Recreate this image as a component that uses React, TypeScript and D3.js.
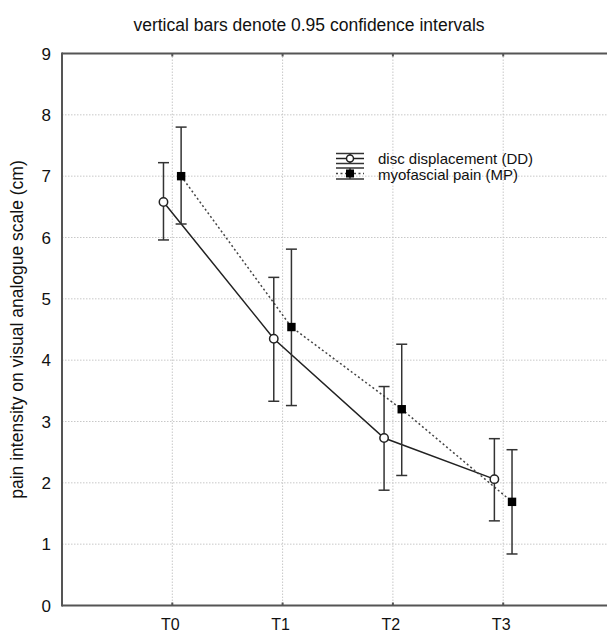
import React from 'react';
import * as d3 from 'd3';

const categories = ['T0', 'T1', 'T2', 'T3'];

// disc displacement (DD): mean with 0.95 CI
const ddMean = [6.58, 4.35, 2.73, 2.06];
const ddLow = [5.96, 3.33, 1.88, 1.38];
const ddHigh = [7.22, 5.35, 3.57, 2.72];

// myofascial pain (MP)
const mpMean = [7.0, 4.54, 3.2, 1.69];
const mpLow = [6.22, 3.26, 2.12, 0.84];
const mpHigh = [7.8, 5.81, 4.26, 2.54];

const yTicks = [0, 1, 2, 3, 4, 5, 6, 7, 8, 9];

const W = 607;
const H = 631;
const FONT = 'Arial, "Liberation Sans", Helvetica, sans-serif';

const App = () => {
  const x = d3.scaleLinear().domain([0, 5]).range([62, 613.5]);
  const y = d3.scaleLinear().domain([0, 9]).range([605.5, 53.5]);
  const off = 0.08;

  const ddPts = categories.map((c, i) => ({ x: x(i + 1 - off), m: y(ddMean[i]), lo: y(ddLow[i]), hi: y(ddHigh[i]) }));
  const mpPts = categories.map((c, i) => ({ x: x(i + 1 + off), m: y(mpMean[i]), lo: y(mpLow[i]), hi: y(mpHigh[i]) }));

  const line = d3.line<{ x: number; m: number }>().x(d => d.x).y(d => d.m);

  const cap = 5.5;
  const errBar = (p, key) => (
    <g key={key} stroke="#333" strokeWidth={1.5}>
      <line x1={p.x} x2={p.x} y1={p.hi} y2={p.lo} />
      <line x1={p.x - cap} x2={p.x + cap} y1={p.hi} y2={p.hi} />
      <line x1={p.x - cap} x2={p.x + cap} y1={p.lo} y2={p.lo} />
    </g>
  );

  const left = x(0);
  const right = W;
  const top = y(9);
  const bottom = y(0);

  return (
    <svg width={W} height={H} style={{ position: 'absolute', left: 0, top: 0, background: '#fff' }} fontFamily={FONT}>
      {/* title */}
      <text x={309} y={31} textAnchor="middle" fontSize={17.5} fill="#111">
        vertical bars denote 0.95 confidence intervals
      </text>

      {/* grid */}
      <g stroke="#c8c8c8" strokeWidth={1} strokeDasharray="1.5,1.5">
        {yTicks.filter(t => t > 0 && t < 9).map(t => (
          <line key={'h' + t} x1={left} x2={right} y1={y(t)} y2={y(t)} />
        ))}
        {categories.map((c, i) => (
          <line key={'v' + c} x1={x(i + 1)} x2={x(i + 1)} y1={top} y2={bottom} />
        ))}
      </g>

      {/* frame */}
      <g stroke="#555" strokeWidth={2}>
        <line x1={left} x2={right} y1={top} y2={top} />
        <line x1={left} x2={right} y1={bottom} y2={bottom} />
        <line x1={left} x2={left} y1={top - 1} y2={bottom + 1} />
        {categories.map((c, i) => (
          <g key={'t' + c}>
            <line x1={x(i + 1)} x2={x(i + 1)} y1={top} y2={top + 3} />
            <line x1={x(i + 1)} x2={x(i + 1)} y1={bottom} y2={bottom - 3} />
          </g>
        ))}
      </g>

      {/* y tick labels */}
      {yTicks.map(t => (
        <text key={'yl' + t} x={51} y={y(t)} dy="0.36em" textAnchor="end" fontSize={17} fill="#111">
          {t}
        </text>
      ))}

      {/* x tick labels */}
      {categories.map((c, i) => (
        <text key={'xl' + c} x={x(i + 1) - 2} y={629.5} textAnchor="middle" fontSize={16} fill="#111">
          {c}
        </text>
      ))}

      {/* y axis title */}
      <text transform={`translate(23, ${(top + bottom) / 2}) rotate(-90)`} textAnchor="middle" fontSize={17.5} fill="#111">
        pain intensity on visual analogue scale (cm)
      </text>

      {/* series lines */}
      <path d={line(ddPts) || ''} fill="none" stroke="#222" strokeWidth={1.5} />
      <path d={line(mpPts) || ''} fill="none" stroke="#444" strokeWidth={1.5} strokeDasharray="2,2.5" />

      {/* error bars */}
      {ddPts.map((p, i) => errBar(p, 'dd' + i))}
      {mpPts.map((p, i) => errBar(p, 'mp' + i))}

      {/* markers */}
      {ddPts.map((p, i) => (
        <circle key={'dc' + i} cx={p.x} cy={p.m} r={4.2} fill="#fff" stroke="#222" strokeWidth={1.5} />
      ))}
      {mpPts.map((p, i) => (
        <rect key={'ms' + i} x={p.x - 4.2} y={p.m - 4.2} width={8.4} height={8.4} fill="#000" />
      ))}

      {/* legend */}
      <g>
        <g stroke="#333" strokeWidth={1.5}>
          <line x1={336} x2={364} y1={153.5} y2={153.5} />
          <line x1={336} x2={364} y1={163.5} y2={163.5} />
          <line x1={350} x2={350} y1={153.5} y2={163.5} />
          <line x1={336} x2={364} y1={158.5} y2={158.5} stroke="#222" />
          <line x1={336} x2={364} y1={168} y2={168} />
          <line x1={336} x2={364} y1={179} y2={179} />
          <line x1={350} x2={350} y1={168} y2={179} />
        </g>
        <line x1={336} x2={364} y1={173.5} y2={173.5} stroke="#fff" strokeWidth={2} />
        <line x1={336} x2={364} y1={173.5} y2={173.5} stroke="#444" strokeWidth={1.5} strokeDasharray="2,2.5" />
        <circle cx={350} cy={158.5} r={3.5} fill="#fff" stroke="#222" strokeWidth={1.5} />
        <rect x={346} y={169.5} width={8} height={8} fill="#000" />
        <text x={378} y={159} dy="0.36em" fontSize={15} fill="#111">disc displacement (DD)</text>
        <text x={378} y={174.5} dy="0.36em" fontSize={15} fill="#111">myofascial pain (MP)</text>
      </g>
    </svg>
  );
};

export default App;
